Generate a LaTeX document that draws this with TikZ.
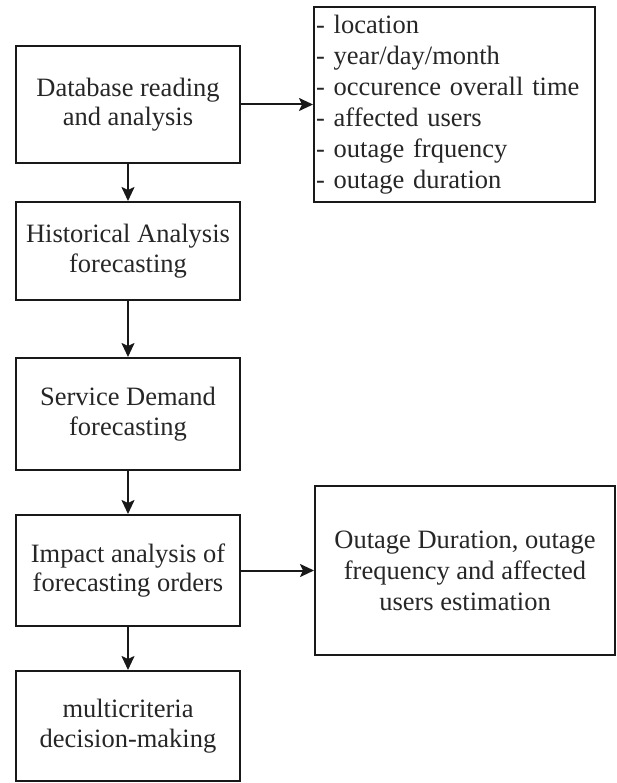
\documentclass[tikz,border=0pt]{standalone}
\usepackage{fontspec}
\setmainfont{Liberation Serif}
\usetikzlibrary{arrows.meta}
\begin{document}
\begin{tikzpicture}[x=1pt,y=-1pt,
  box/.style={draw=black!90,line width=2pt,rectangle,inner sep=2pt,align=center,
    font=\fontsize{26.5}{29.5}\selectfont,text=black!85},
  conn/.style={line width=2pt,draw=black!90,-{Stealth[length=14pt,width=13pt,inset=3pt]}}]
\useasboundingbox (0,0) rectangle (617,783);
\node[box,minimum width=224pt,minimum height=117pt] (db) at (128,104.5) {Database reading\\and analysis};
\node[box,minimum width=224pt,minimum height=98pt] (hist) at (128,251) {Historical Analysis\\forecasting};
\node[box,minimum width=224pt,minimum height=112pt] (serv) at (128,414) {Service Demand\\forecasting};
\node[box,minimum width=224pt,minimum height=111pt] (imp) at (128,570.5) {Impact analysis of\\forecasting orders};
\node[box,minimum width=224pt,minimum height=110pt] (multi) at (128,726) {multicriteria\\decision-making};
\node[box,align=left,inner xsep=2pt,text width=277pt,minimum height=195pt,font=\fontsize{26.5}{31}\selectfont] (list) at (454.5,104.5) {- location\\- year/day/month\\- occurence overall time\\- affected users\\- outage frquency\\- outage duration};
\node[box,minimum width=300pt,minimum height=169pt,font=\fontsize{26.5}{31}\selectfont] (est) at (465,570.5) {Outage Duration, outage\\frequency and affected\\users estimation};
\draw[conn] (db) -- (list);
\draw[conn] (db) -- (hist);
\draw[conn] (hist) -- (serv);
\draw[conn] (serv) -- (imp);
\draw[conn] (imp) -- (multi);
\draw[conn] (imp) -- (est);
\end{tikzpicture}
\end{document}
